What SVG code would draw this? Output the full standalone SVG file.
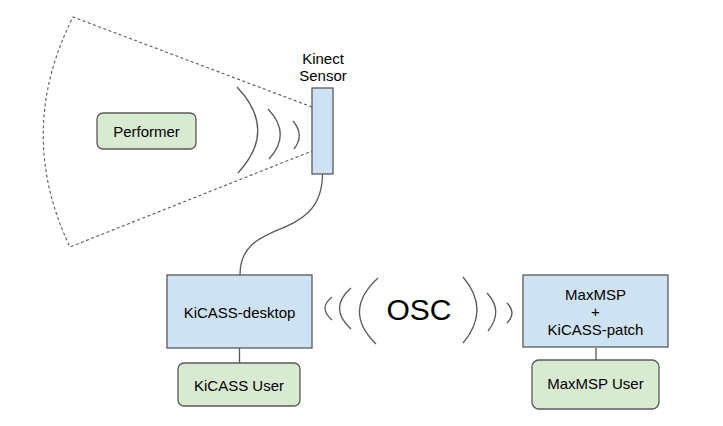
<svg xmlns="http://www.w3.org/2000/svg" width="723" height="426" viewBox="0 0 723 426">
<style>
.t{font-family:"Liberation Sans",Arial,sans-serif;font-size:15px;fill:#000;text-anchor:middle}
.blue{fill:#cfe2f3;stroke:#595959;stroke-width:1.3}
.green{fill:#d9ead3;stroke:#595959;stroke-width:1.3}
.ln{fill:none;stroke:#595959;stroke-width:1.3}
.dash{fill:none;stroke:#595959;stroke-width:1.1;stroke-dasharray:3 2.5}
</style>
<rect width="723" height="426" fill="#fff"/>
<g id="connectors">
<path class="dash" d="M312,107 L73,17 Q15,132 70,247 L312,151"/>
<path class="ln" d="M237,87 Q278,130 238,173"/>
<path class="ln" d="M268,109 Q292,134 269,159"/>
<path class="ln" d="M293,121 Q305,135 294,149"/>
<path class="ln" d="M322.5,174 C322,245 240,215 240,275"/>
<line class="ln" x1="239.5" y1="348" x2="239.5" y2="363"/>
<line class="ln" x1="596" y1="348" x2="596" y2="360"/>
<path class="ln" d="M378,278 Q342,311 376,344"/>
<path class="ln" d="M351,288 Q328,308 351,329"/>
<path class="ln" d="M332,297 Q318,308 332,320"/>
<path class="ln" d="M463,277 Q491,310 463,343"/>
<path class="ln" d="M487,293 Q504,311 488,331"/>
<path class="ln" d="M507,303 Q517,313 507,323"/>
</g>
<g id="performer">
<rect class="green" x="97" y="113" width="99" height="36" rx="6"/>
<text class="t" x="146.5" y="137">Performer</text>
</g>
<g id="kinect">
<rect class="blue" x="312" y="88" width="21" height="86"/>
<text class="t" x="323" y="64">Kinect</text>
<text class="t" x="323" y="81">Sensor</text>
</g>
<g id="kicass-desktop">
<rect class="blue" x="167" y="275" width="145" height="73"/>
<text class="t" x="239.5" y="317.5">KiCASS-desktop</text>
</g>
<g id="kicass-user">
<rect class="green" x="178" y="363" width="122" height="43" rx="6"/>
<text class="t" x="239" y="390.5">KiCASS User</text>
</g>
<g id="osc">
<text class="t" x="419" y="319.5" style="font-size:30px">OSC</text>
</g>
<g id="maxmsp">
<rect class="blue" x="523" y="275" width="145" height="72"/>
<text class="t" x="595.5" y="299.5">MaxMSP</text>
<text class="t" x="595.5" y="317">+</text>
<text class="t" x="595.5" y="334.5">KiCASS-patch</text>
</g>
<g id="maxmsp-user">
<rect class="green" x="532" y="360" width="127" height="49" rx="7"/>
<text class="t" x="595.5" y="388.5">MaxMSP User</text>
</g>
</svg>
